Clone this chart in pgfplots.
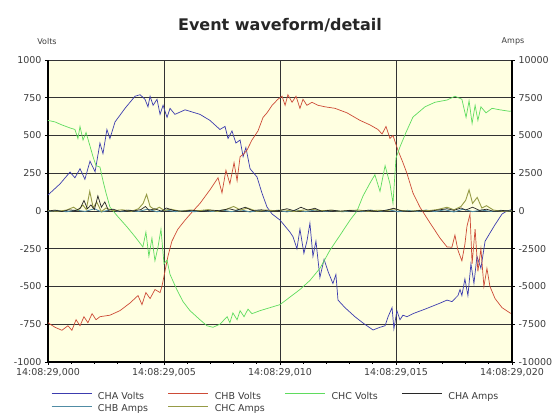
\documentclass[border=0pt]{standalone}
\usepackage{fontspec}
\setmainfont{DejaVu Sans}
\usepackage{pgfplots}
\pgfplotsset{compat=1.18}
\definecolor{bgY}{RGB}{255,255,225}
\definecolor{cVa}{RGB}{60,60,175}
\definecolor{cVb}{RGB}{205,75,55}
\definecolor{cVc}{RGB}{95,220,95}
\definecolor{cAa}{RGB}{40,40,40}
\definecolor{cAb}{RGB}{80,140,165}
\definecolor{cAc}{RGB}{150,155,70}
\definecolor{txt}{RGB}{60,60,60}
\begin{document}
\begin{tikzpicture}
\useasboundingbox (-48pt,-53pt) rectangle (510pt,362pt);
\begin{axis}[
  at={(0pt,0pt)}, anchor=south west,
  scale only axis, width=464pt, height=302pt,
  xmin=0, xmax=20, ymin=-1000, ymax=1000,
  axis y line*=left, axis x line*=bottom,
  axis line style={-, black},
  y axis line style={line width=1.4pt},
  x axis line style={line width=1.2pt},
  axis background/.style={fill=bgY},
  xtick={0,5,10,15,20},
  xticklabels={{14:08:29,000}, {14:08:29,005}, {14:08:29,010}, {14:08:29,015}, {14:08:29,020}},
  minor x tick num=4,
  ytick={-1000,-750,-500,-250,0,250,500,750,1000},
  yticklabels={-1000,-750,-500,-250,0,250,500,750,1000},
  tick align=outside, major tick length=3pt, minor tick length=2pt,
  tick style={black, line width=0.6pt},
  grid=major, major grid style={black!80, line width=0.8pt},
  ticklabel style={font=\fontsize{9.5}{11}\selectfont, text=txt},
  legend columns=4,
  legend cell align=left,
  legend style={draw=none, fill=none, at={(0,0)}, anchor=north west, xshift=3pt, yshift=-30pt,
    inner sep=0pt, column sep=0pt, row sep=3.5pt,
    nodes={inner sep=0pt, text height=7pt, text depth=2pt, text=txt, font=\fontsize{9.5}{11}\selectfont}},
  legend image code/.code={\draw[#1, line width=0.8pt] (0pt,3pt) -- (40pt,3pt);},
]
\addplot[cVa, line width=0.7pt] coordinates {
(0.00,106)(0.52,180)(0.95,258)(1.16,220)(1.38,280)(1.59,210)(1.81,330)(2.03,260)(2.24,450)(2.37,380)
(2.54,540)(2.67,480)(2.89,590)(3.32,680)(3.75,760)(3.97,770)(4.18,740)(4.31,690)(4.40,760)(4.53,700)
(4.70,740)(4.83,640)(4.96,700)(5.13,620)(5.26,680)(5.47,640)(5.91,670)(6.55,640)(6.98,600)(7.41,540)
(7.63,560)(7.76,480)(7.93,530)(8.10,450)(8.28,470)(8.41,360)(8.53,420)(8.71,280)(9.01,225)(9.22,120)
(9.44,26)(9.66,-20)(10.00,-60)(10.43,-140)(10.56,-170)(10.73,-250)(10.86,-120)(11.03,-280)(11.16,-200)
(11.29,-80)(11.42,-300)(11.55,-200)(11.72,-440)(11.90,-320)(12.07,-400)(12.28,-480)(12.41,-420)(12.50,-590)
(12.80,-640)(13.23,-700)(13.58,-742)(14.01,-788)(14.31,-770)(14.53,-760)(14.66,-700)(14.83,-640)(14.91,-780)
(15.04,-660)(15.17,-720)(15.30,-690)(15.47,-700)(15.73,-680)(16.25,-650)(16.90,-610)(17.20,-590)(17.41,-600)
(17.67,-560)(17.76,-520)(17.84,-560)(17.97,-450)(18.10,-560)(18.23,-350)(18.36,-480)(18.49,-300)(18.66,-380)
(18.84,-200)(19.05,-146)(19.27,-90)(19.57,-20)(19.78,0)(20.00,10)};
\addlegendentry{\makebox[76pt][l]{\hspace{6pt}CHA Volts}}
\addplot[cVb, line width=0.7pt] coordinates {
(0.00,-740)(0.30,-770)(0.60,-790)(0.86,-760)(1.03,-790)(1.21,-720)(1.38,-760)(1.55,-700)(1.72,-740)(1.90,-680)
(2.07,-720)(2.24,-700)(2.67,-690)(3.10,-660)(3.53,-610)(3.88,-560)(4.05,-620)(4.22,-540)(4.40,-580)(4.61,-520)
(4.83,-540)(4.91,-500)(5.04,-400)(5.17,-300)(5.34,-200)(5.60,-120)(5.91,-60)(6.25,0)(6.55,50)(6.98,140)
(7.33,220)(7.50,120)(7.67,270)(7.84,180)(8.02,320)(8.15,200)(8.28,360)(8.45,380)(8.58,404)(8.79,470)
(9.05,530)(9.27,620)(9.44,650)(9.66,700)(9.91,740)(10.09,760)(10.22,700)(10.34,770)(10.52,720)(10.69,760)
(10.86,680)(10.99,740)(11.16,700)(11.38,720)(11.64,700)(11.94,690)(12.37,680)(12.89,650)(13.45,600)(13.88,570)
(14.22,540)(14.40,510)(14.57,560)(14.74,480)(14.87,500)(15.09,400)(15.30,320)(15.47,250)(15.73,120)(16.03,26)
(16.47,-80)(16.90,-180)(17.20,-238)(17.41,-240)(17.54,-160)(17.67,-260)(17.84,-330)(17.97,-220)(18.06,-100)
(18.19,-20)(18.28,-350)(18.41,-120)(18.53,-400)(18.66,-250)(18.79,-500)(18.92,-380)(19.05,-500)(19.27,-580)
(19.57,-640)(19.91,-675)(20.00,-680)};
\addlegendentry{\makebox[76pt][l]{\hspace{6pt}CHB Volts}}
\addplot[cVc, line width=0.7pt] coordinates {
(0.00,600)(0.30,590)(0.60,570)(0.95,550)(1.16,540)(1.29,480)(1.38,560)(1.51,470)(1.64,520)(1.81,430)
(1.94,360)(2.07,300)(2.24,291)(2.37,200)(2.50,120)(2.67,26)(2.97,-30)(3.41,-106)(3.75,-170)(4.09,-238)
(4.22,-140)(4.35,-300)(4.48,-180)(4.61,-330)(4.74,-240)(4.87,-120)(5.00,-350)(5.13,-325)(5.26,-420)(5.56,-523)
(5.82,-600)(6.12,-660)(6.55,-720)(6.85,-760)(7.11,-770)(7.41,-750)(7.72,-700)(7.84,-740)(7.97,-675)(8.15,-720)
(8.28,-660)(8.45,-700)(8.62,-650)(8.79,-680)(9.14,-660)(9.57,-640)(10.00,-620)(10.43,-570)(10.86,-520)(11.29,-460)
(11.72,-380)(12.16,-258)(12.59,-160)(13.02,-60)(13.32,0)(13.58,100)(13.88,185)(14.09,240)(14.31,130)(14.53,300)
(14.74,180)(14.87,50)(15.00,350)(15.17,424)(15.43,520)(15.73,622)(16.25,690)(16.68,720)(17.20,735)(17.54,760)
(17.84,740)(18.02,620)(18.15,730)(18.28,580)(18.41,700)(18.53,600)(18.66,690)(18.88,650)(19.14,680)(19.48,670)
(19.91,660)(20.00,665)};
\addlegendentry{\makebox[76pt][l]{\hspace{6pt}CHC Volts}}
\addlegendimage{cAa}
\addlegendentry{\makebox[76pt][l]{\hspace{6pt}CHA Amps}}
\addlegendimage{cAb}
\addlegendentry{\makebox[76pt][l]{\hspace{6pt}CHB Amps}}
\addlegendimage{cAc}
\addlegendentry{\makebox[76pt][l]{\hspace{6pt}CHC Amps}}
\end{axis}
\begin{axis}[
  at={(0pt,0pt)}, anchor=south west,
  scale only axis, width=464pt, height=302pt,
  xmin=0, xmax=20, ymin=-10000, ymax=10000,
  axis y line*=right, axis x line=none,
  axis line style={-, black},
  y axis line style={line width=1.4pt},
  scaled y ticks=false,
  ytick={-10000,-7500,-5000,-2500,0,2500,5000,7500,10000},
  yticklabels={-10000,-7500,-5000,-2500,0,2500,5000,7500,10000},
  tick align=outside, major tick length=3pt,
  tick style={black, line width=0.6pt},
  ticklabel style={font=\fontsize{9.5}{11}\selectfont, text=txt},
]
\addplot[cAb, line width=0.9pt] coordinates {
(0,-20)(0.4,40)(0.8,-50)(1.2,60)(1.6,-30)(2.0,150)(2.3,-60)(2.7,80)(3.1,-40)(3.5,50)(3.9,-30)(4.3,120)(4.7,-50)
(5.1,60)(5.5,-40)(5.9,30)(6.3,-50)(6.7,40)(7.1,-30)(7.5,60)(7.9,-40)(8.3,80)(8.7,-60)(9.1,40)(9.5,-30)(9.9,50)
(10.3,-60)(10.7,70)(11.1,-40)(11.5,60)(11.9,-30)(12.3,40)(12.7,-50)(13.1,30)(13.5,-40)(13.9,60)(14.3,-30)(14.7,80)
(15.1,-50)(15.5,40)(15.9,-30)(16.3,60)(16.7,-40)(17.1,80)(17.5,-60)(17.9,120)(18.3,-40)(18.7,60)(19.1,-30)(19.5,40)(20,0)};
\addplot[cAc, line width=0.9pt] coordinates {
(0,30)(0.4,-20)(0.8,60)(1.1,250)(1.3,50)(1.5,400)(1.65,100)(1.8,1300)(1.95,200)(2.1,600)(2.3,-40)(2.5,200)(2.8,20)
(3.2,80)(3.6,-20)(3.9,150)(4.1,500)(4.25,1100)(4.4,300)(4.6,80)(4.8,250)(5.0,40)(5.3,120)(5.7,-20)(6.1,60)(6.5,20)
(6.9,90)(7.3,-30)(7.7,120)(8.0,300)(8.3,60)(8.6,200)(9.0,-20)(9.4,60)(9.8,20)(10.2,80)(10.6,-30)(11.0,60)(11.4,100)
(11.8,20)(12.2,50)(12.6,-20)(13.0,40)(13.4,60)(13.8,-20)(14.2,50)(14.6,20)(14.9,150)(15.2,40)(15.6,-20)(16.0,40)
(16.4,20)(16.8,100)(17.2,250)(17.5,80)(17.8,300)(18.0,700)(18.15,1400)(18.3,500)(18.5,900)(18.7,200)(18.9,350)
(19.2,60)(19.6,-20)(20,10)};
\addplot[cAa, line width=0.7pt] coordinates {
(0,0)(0.3,60)(0.6,-40)(0.9,80)(1.2,30)(1.4,200)(1.55,700)(1.7,150)(1.85,400)(2.0,100)(2.15,1000)(2.3,250)(2.45,600)
(2.6,50)(2.8,120)(3.1,-30)(3.4,60)(3.7,10)(4.0,90)(4.2,300)(4.35,40)(4.6,150)(4.9,-20)(5.1,200)(5.4,40)(5.8,-20)
(6.2,50)(6.6,-30)(7.0,60)(7.4,20)(7.8,150)(8.1,40)(8.5,250)(8.8,30)(9.2,80)(9.6,-20)(10.0,40)(10.3,150)(10.6,20)
(10.9,250)(11.2,60)(11.5,180)(11.8,-20)(12.2,60)(12.6,-10)(13.0,40)(13.4,-20)(13.8,50)(14.2,-30)(14.6,60)(14.9,180)
(15.2,20)(15.6,-40)(16.0,30)(16.4,-20)(16.8,60)(17.2,150)(17.5,40)(17.8,200)(18.0,60)(18.3,250)(18.6,40)(18.9,120)
(19.2,-20)(19.6,30)(20,0)};
\end{axis}
\node[font=\bfseries\fontsize{16}{18}\selectfont, text=black!85] at (232pt,337pt) {Event waveform/detail};
\node[font=\fontsize{8}{9}\selectfont, text=txt] at (-1pt,320pt) {Volts};
\node[font=\fontsize{8}{9}\selectfont, text=txt] at (465pt,321pt) {Amps};
\end{tikzpicture}
\end{document}
